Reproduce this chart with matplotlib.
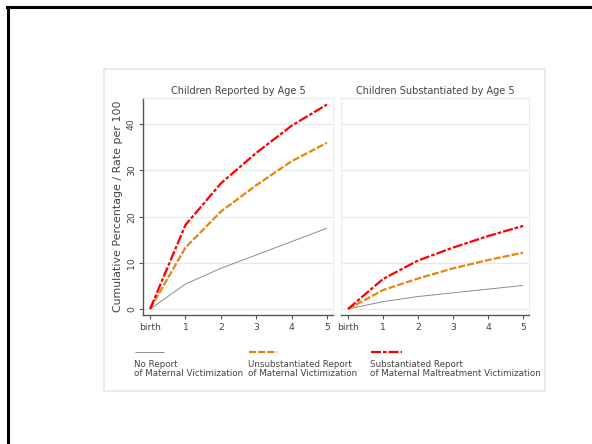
import matplotlib
matplotlib.use("Agg")
import matplotlib.pyplot as plt
from matplotlib.lines import Line2D
from matplotlib.patches import Rectangle

# cumulative percentage by age (birth .. 5)
ages = [0, 1, 2, 3, 4, 5]
age_labels = ["birth", "1", "2", "3", "4", "5"]

reported_none = [0, 5.4, 8.8, 11.7, 14.6, 17.5]
reported_unsub = [0, 13.3, 21.1, 26.8, 32.0, 36.0]
reported_sub = [0, 18.2, 27.2, 33.8, 39.7, 44.3]

substantiated_none = [0, 1.6, 2.7, 3.5, 4.3, 5.1]
substantiated_unsub = [0, 4.1, 6.6, 8.8, 10.6, 12.2]
substantiated_sub = [0, 6.5, 10.5, 13.3, 15.8, 18.0]

panel_titles = ["Children Reported by Age 5", "Children Substantiated by Age 5"]
legend_labels = ["No Report\nof Maternal Victimization",
                 "Unsubstantiated Report\nof Maternal Victimization",
                 "Substantiated Report\nof Maternal Maltreatment Victimization"]
y_ticks = [0, 10, 20, 30, 40]

styles = [
    dict(color="#8c8c8c", lw=0.7, ls="-"),
    dict(color="#e8860c", lw=1.6, ls=(0, (3.2, 0.9))),
    dict(color="#ff0000", lw=1.6, ls=(0, (4.5, 0.9, 1.6, 0.9))),
]

W, H = 592, 444
fig = plt.figure(figsize=(W / 100, H / 100), dpi=100)
plt.rcParams["font.family"] = "DejaVu Sans"
txt = "#444444"

# outer slide frame (top and left)
fig.add_artist(Line2D([7 / W, 1], [1 - 7 / H, 1 - 7 / H], color="black", lw=2.2))
fig.add_artist(Line2D([8 / W, 8 / W], [1 - 7 / H, 0], color="black", lw=2.2))

# light graph region box
fig.add_artist(Rectangle((104 / W, 1 - 391 / H), (545 - 104) / W, (391 - 69) / H,
                         transform=fig.transFigure, fill=False, ec="#e6e6e6", lw=1.2))

ax1 = fig.add_axes([143 / W, 1 - 315 / H, (333 - 143) / W, (315 - 98) / H])
ax2 = fig.add_axes([341 / W, 1 - 315 / H, (529 - 341) / W, (315 - 98) / H])

data = [
    [reported_none, reported_unsub, reported_sub],
    [substantiated_none, substantiated_unsub, substantiated_sub],
]

for i, (ax, series, title) in enumerate(zip([ax1, ax2], data, panel_titles)):
    for vals, st in zip(series, styles):
        ax.plot(ages, vals, color=st["color"], lw=st["lw"], ls=st["ls"],
                solid_capstyle="butt", dash_capstyle="butt")
    ax.set_xlim(-0.2, 5.17)
    ax.set_ylim(-1.3, 45.7)
    ax.set_yticks(y_ticks)
    ax.set_xticks(ages)
    ax.set_xticklabels(age_labels)
    ax.grid(axis="y", color="#e8e8e8", lw=0.9)
    ax.set_axisbelow(True)
    ax.set_title(title, fontsize=7, color=txt, pad=3)
    for s in ["top", "right"]:
        ax.spines[s].set_color("#ececec")
        ax.spines[s].set_linewidth(0.8)
    ax.spines["bottom"].set_color("#555555")
    ax.spines["bottom"].set_linewidth(1.0)
    ax.tick_params(axis="x", length=3, width=0.8, color="#555555",
                   labelsize=6.7, labelcolor=txt, pad=3)
    if i == 0:
        ax.spines["left"].set_color("#555555")
        ax.spines["left"].set_linewidth(1.0)
        ax.tick_params(axis="y", length=3, width=0.8, color="#555555",
                       labelsize=6.7, labelcolor=txt, pad=2)
        for lab in ax.get_yticklabels():
            lab.set_rotation(90)
            lab.set_va("center")
        ax.set_ylabel("Cumulative Percentage / Rate per 100", fontsize=7.9,
                      color=txt, labelpad=3)
    else:
        ax.spines["left"].set_color("#ececec")
        ax.spines["left"].set_linewidth(0.8)
        ax.tick_params(axis="y", length=0, labelleft=False)

# legend: key above, two-line label below
key_x = [(135, 164), (249, 277), (371, 402)]
for (x0, x1), st, lab in zip(key_x, styles, legend_labels):
    fig.add_artist(Line2D([x0 / W, x1 / W], [1 - 352 / H] * 2, color=st["color"],
                          lw=st["lw"], ls=st["ls"], solid_capstyle="butt",
                          dash_capstyle="butt"))
    fig.text(x0 / W - 0.001, 1 - 360 / H, lab, fontsize=6.3, color=txt,
             ha="left", va="top", linespacing=1.0)

fig.savefig("out.png", dpi=100, facecolor="white")
